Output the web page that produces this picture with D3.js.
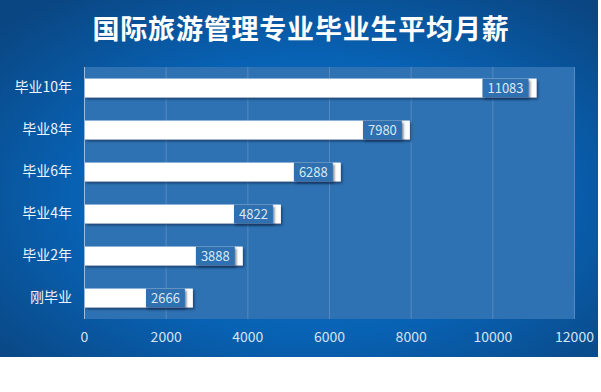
<!DOCTYPE html>
<html>
<head>
<meta charset="utf-8">
<script src="https://cdn.jsdelivr.net/npm/d3@7/dist/d3.min.js"></script>
<style>
  html, body { margin: 0; padding: 0; background: #fff; }
  svg { display: block; }
  text { font-family: "Noto Sans CJK SC", "Noto Sans", sans-serif; }
</style>
</head>
<body>
<div id="chart"></div>
<script>
// data
const categories = ['毕业10年', '毕业8年', '毕业6年', '毕业4年', '毕业2年', '刚毕业']
const values = [11083, 7980, 6288, 4822, 3888, 2666]
const tickValues = [0, 2000, 4000, 6000, 8000, 10000, 12000]
const title = '国际旅游管理专业毕业生平均月薪'

const W = 601, H = 392
const bgW = 598, bgH = 357
const plot = { left: 84, right: 574, top: 67, bottom: 319 }

const svg = d3.select('#chart').append('svg')
  .attr('width', W)
  .attr('height', H)

const defs = svg.append('defs')
const grad = defs.append('radialGradient')
  .attr('id', 'bg')
  .attr('cx', '52%').attr('cy', '55%').attr('r', '70%')
grad.append('stop').attr('offset', '0%').attr('stop-color', '#0a78d0')
grad.append('stop').attr('offset', '55%').attr('stop-color', '#0862b4')
grad.append('stop').attr('offset', '100%').attr('stop-color', '#0a4682')

const shadow = defs.append('filter')
  .attr('id', 'shadow')
  .attr('x', '-10%').attr('y', '-30%').attr('width', '130%').attr('height', '190%')
shadow.append('feDropShadow')
  .attr('dx', 1.5).attr('dy', 2)
  .attr('stdDeviation', 1.2)
  .attr('flood-color', '#0b2747')
  .attr('flood-opacity', 0.6)

// background
svg.append('rect')
  .attr('x', 0).attr('y', 0)
  .attr('width', bgW).attr('height', bgH)
  .attr('fill', 'url(#bg)')

svg.append('text')
  .attr('x', 301).attr('y', 39)
  .attr('text-anchor', 'middle')
  .attr('fill', '#ffffff')
  .attr('font-size', 27)
  .attr('font-weight', 'bold')
  .attr('letter-spacing', 0.8)
  .text(title)

// plot area
svg.append('rect')
  .attr('x', plot.left).attr('y', plot.top)
  .attr('width', plot.right - plot.left).attr('height', plot.bottom - plot.top)
  .attr('fill', '#2f72b3')

const x = d3.scaleLinear().domain([0, 12000]).range([plot.left, plot.right])
const y = d3.scaleBand().domain(categories).range([plot.top, plot.bottom]).paddingInner(0.55).paddingOuter(0.275)

// grid lines
svg.append('g')
  .selectAll('line')
  .data(tickValues.slice(1))
  .enter()
  .append('line')
  .attr('x1', d => x(d) + 0.5).attr('x2', d => x(d) + 0.5)
  .attr('y1', plot.top).attr('y2', plot.bottom)
  .attr('stroke', '#5588c0')
  .attr('stroke-width', 1)

// axis
const xAxis = d3.axisBottom(x).tickValues(tickValues).tickFormat(d3.format('d')).tickSize(0).tickPadding(13)
const gx = svg.append('g')
  .attr('transform', 'translate(0,' + plot.bottom + ')')
  .call(xAxis)
gx.select('.domain').remove()
gx.selectAll('text')
  .attr('fill', '#d6e3f2')
  .attr('font-size', 14)

const yAxis = d3.axisLeft(y).tickSize(0).tickPadding(12)
const gy = svg.append('g')
  .attr('transform', 'translate(' + plot.left + ',0)')
  .call(yAxis)
gy.select('.domain').remove()
gy.selectAll('text')
  .attr('fill', '#eef4fb')
  .attr('font-size', 14)

svg.append('line')
  .attr('x1', plot.left + 0.5).attr('x2', plot.left + 0.5)
  .attr('y1', plot.top).attr('y2', plot.bottom)
  .attr('stroke', '#9bbbe0')

// bars
const rows = categories.map((c, i) => ({ cat: c, val: values[i] }))
const bars = svg.append('g')
  .selectAll('g')
  .data(rows)
  .enter()
  .append('g')

bars.append('rect')
  .attr('x', plot.left + 1)
  .attr('y', d => y(d.cat))
  .attr('width', d => x(d.val) - plot.left - 1)
  .attr('height', y.bandwidth())
  .attr('fill', '#ffffff')
  .attr('filter', 'url(#shadow)')

// data labels in a box covering the bar end
const stub = 8
const labels = bars.append('text')
  .attr('y', d => y(d.cat) + y.bandwidth() / 2)
  .attr('dy', '0.35em')
  .attr('text-anchor', 'middle')
  .attr('fill', '#dbe7f4')
  .attr('font-size', 13)
  .text(d => d.val)

labels.each(function (d) {
  const tw = this.getComputedTextLength()
  const bw = tw + 10
  const x1 = x(d.val) - stub
  d3.select(this.parentNode).insert('rect', 'text')
    .attr('x', x1 - bw)
    .attr('y', y(d.cat))
    .attr('width', bw)
    .attr('height', y.bandwidth())
    .attr('fill', '#2f70b0')
    .attr('filter', 'url(#shadow)')
  d3.select(this).attr('x', x1 - bw / 2)
})
</script>
</body>
</html>
